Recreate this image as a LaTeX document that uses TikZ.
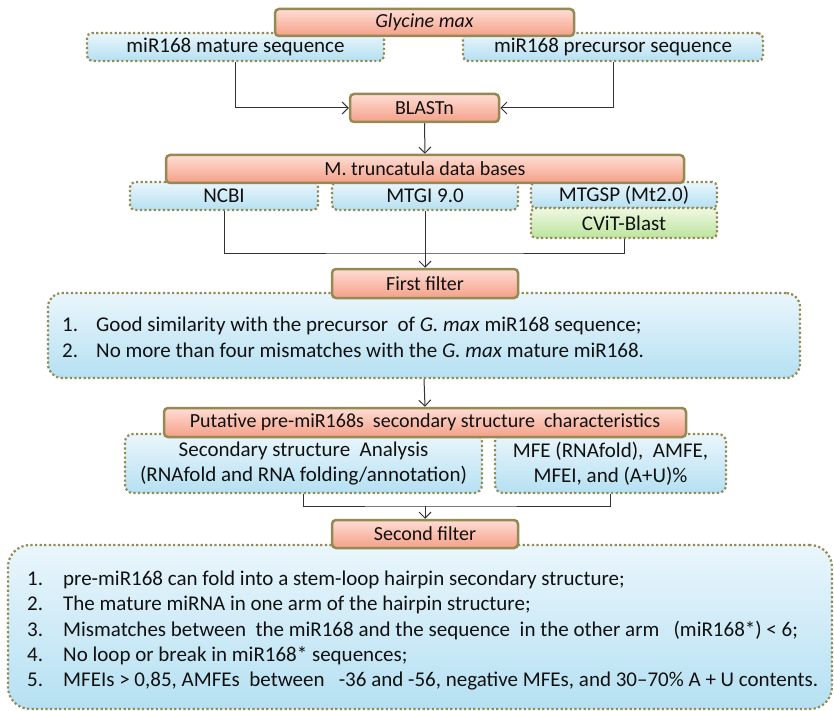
\documentclass[tikz,border=0pt]{standalone}
\usepackage{fontspec}
\setmainfont{Carlito}
\usetikzlibrary{arrows.meta}
\definecolor{bord}{HTML}{948A54}
\definecolor{orTop}{HTML}{FFDDD4}
\definecolor{orBot}{HTML}{F4A088}
\definecolor{blTop}{HTML}{EAF6FC}
\definecolor{blBot}{HTML}{B5E0F2}
\definecolor{grTop}{HTML}{EEF8E2}
\definecolor{grBot}{HTML}{BDE49E}
\definecolor{txt}{HTML}{111111}
\definecolor{lnk}{HTML}{333333}
\tikzset{
  orangebox/.style={draw=bord, line width=2.5pt, rounded corners=4pt, top color=orTop, bottom color=orBot, inner sep=0pt, text=txt, font=\fontsize{20}{23}\selectfont},
  bluebox/.style={draw=bord, line width=2.2pt, dash pattern=on 2.2pt off 2.4pt, rounded corners=5pt, top color=blTop, bottom color=blBot, inner sep=0pt, text=txt, font=\fontsize{21}{25}\selectfont},
  greenbox/.style={bluebox, top color=grTop, bottom color=grBot},
  conn/.style={draw=lnk, line width=1pt},
  arr/.style={conn, -{Straight Barb[length=6pt,width=12pt]}},
  listtxt/.style={anchor=base west, inner sep=0pt, text=txt, font=\fontsize{21}{25}\selectfont},
}
\begin{document}
\begin{tikzpicture}[x=1pt,y=-1pt]
\useasboundingbox (0,0) rectangle (834,711);
% blue boxes (background layer)
\node[bluebox, minimum width=297, minimum height=28] (mature) at (235.5,47) {miR168 mature sequence};
\node[bluebox, minimum width=300, minimum height=28] (precursor) at (613,47) {miR168 precursor sequence};
\node[bluebox, minimum width=188, minimum height=28] (ncbi) at (224,196) {NCBI};
\node[bluebox, minimum width=186, minimum height=28] (mtgi) at (425,196) {MTGI 9.0};
\node[bluebox, minimum width=186, minimum height=26] (mtgsp) at (624,195) {MTGSP (Mt2.0)};
\node[greenbox, minimum width=186, minimum height=30] (cvit) at (624,223) {CViT-Blast};
\node[bluebox, rounded corners=14pt, minimum width=752, minimum height=85] (box1) at (424,335.5) {};
\node[bluebox, rounded corners=8pt, minimum width=357, minimum height=59, align=center, font=\fontsize{21}{25}\selectfont] (sec) at (303.5,463.5) {Secondary structure\ \ Analysis\\(RNAfold and RNA folding/annotation)};
\node[bluebox, rounded corners=8pt, minimum width=231, minimum height=59, align=center, font=\fontsize{21}{25}\selectfont] (mfe) at (610.5,463.5) {MFE (RNAfold),\ \ AMFE,\\MFEI, and (A+U)\%};
\node[bluebox, rounded corners=22pt, minimum width=824, minimum height=164] (box2) at (420,627) {};
% orange boxes
\node[orangebox, minimum width=299, minimum height=27] (glycine) at (424.5,22.5) {\textit{Glycine max}};
\node[orangebox, minimum width=149, minimum height=28] (blast) at (424.5,108) {BLASTn};
\node[orangebox, minimum width=518, minimum height=28] (mtrunc) at (425,169) {M. truncatula data bases};
\node[orangebox, minimum width=186, minimum height=29] (first) at (425,283.5) {First filter};
\node[orangebox, minimum width=522, minimum height=29] (putative) at (425,422.5) {Putative pre-miR168s\ \ secondary structure\ \ characteristics};
\node[orangebox, minimum width=186, minimum height=28] (second) at (425,534) {Second filter};
% first filter list
\node[listtxt] (n11) at (62,331) {1.};
\node[listtxt] (t11) at (96,331) {Good similarity with the precursor\ \ of \textit{G. max} miR168 sequence;};
\node[listtxt] (n12) at (62,357) {2.};
\node[listtxt] (t12) at (96,357) {No more than four mismatches with the \textit{G. max} mature miR168.};
% second filter list
\node[listtxt] (n21) at (27,585) {1.};
\node[listtxt] (t21) at (63,585) {pre-miR168 can fold into a stem-loop hairpin secondary structure;};
\node[listtxt] (n22) at (27,610.5) {2.};
\node[listtxt] (t22) at (63,610.5) {The mature miRNA in one arm of the hairpin structure;};
\node[listtxt] (n23) at (27,636) {3.};
\node[listtxt] (t23) at (63,636) {Mismatches between\ \ the miR168 and the sequence\ \ in the other arm\ \ \ (miR168*) < 6;};
\node[listtxt] (n24) at (27,661) {4.};
\node[listtxt] (t24) at (63,661) {No loop or break in miR168* sequences;};
\node[listtxt] (n25) at (27,686.5) {5.};
\node[listtxt] (t25) at (63,686.5) {MFEIs > 0,85, AMFEs\ \ between\ \ \ -36 and -56, negative MFEs, and 30–70\% A + U contents.};
% connectors
\coordinate (j1) at (425,253);
\coordinate (j2) at (425,506);
\draw[arr] (mature.south) |- (blast.west);
\draw[arr] (precursor.south) |- (blast.east);
\draw[arr] (blast.south) -- (mtrunc.north);
\draw[conn] (ncbi.south) |- (j1) -| (cvit.south);
\draw[arr] (mtgi.south) -- (first.north);
\draw[arr] (box1.south) -- (putative.north);
\draw[conn] (sec.south) |- (j2) -| (mfe.south);
\draw[arr] (j2) -- (second.north);
\end{tikzpicture}
\end{document}
